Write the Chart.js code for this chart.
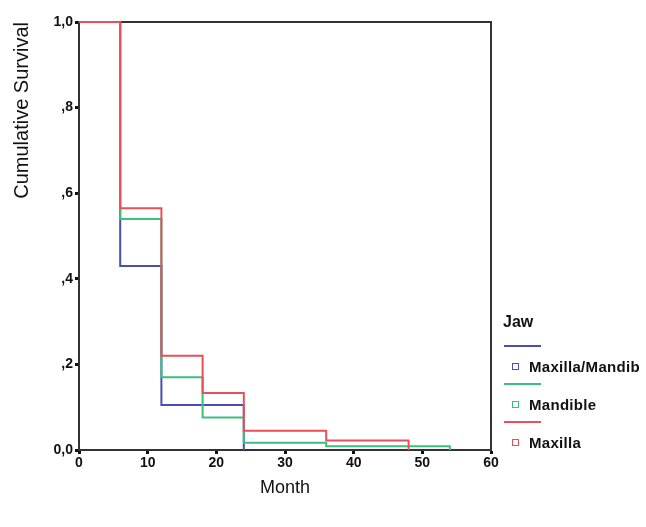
<!DOCTYPE html>
<html lang="en">

<head>
  <meta charset="UTF-8">
  <script src="https://cdn.jsdelivr.net/npm/chart.js@4.4.0/dist/chart.umd.min.js"></script>
  <style>
    body {
      margin: 0;
      background: #fff;
      font-family: "Liberation Sans", Arial, sans-serif;
    }

    #wrap {
      position: relative;
      width: 646px;
      height: 527px;
    }

    #legend {
      position: absolute;
      left: 503px;
      top: 313px;
      width: 143px;
      overflow: hidden;
      white-space: nowrap;
      color: #111;
    }

    #legend .title {
      font-weight: bold;
      font-size: 16px;
      height: 26px;
    }

    #legend .line {
      width: 37px;
      height: 2px;
      margin: 6px 0 8px 1px;
    }

    #legend .item {
      font-weight: bold;
      font-size: 15px;
      letter-spacing: 0.3px;
      height: 22px;
      display: flex;
      align-items: center;
    }

    #legend .box {
      width: 5px;
      height: 5px;
      border: 1.5px solid;
      margin: 0 10px 0 9px;
    }
  </style>
  <title>Cumulative Survival</title>
</head>

<body>
  <div id="wrap">
    <canvas id="chart" width="646" height="527"></canvas>
    <div id="legend"></div>
  </div>

  <script>
    // survival steps per jaw group (time in months, cumulative survival)
    const seriesNames = ['Maxilla/Mandible', 'Mandible', 'Maxilla'];
    const legendNames = ['Maxilla/Mandib', 'Mandible', 'Maxilla'];
    const blueTimes = [0, 6, 12, 24];
    const blueSurv = [1, 0.43, 0.105, 0];
    const greenTimes = [0, 6, 12, 18, 24, 36, 54];
    const greenSurv = [1, 0.54, 0.17, 0.076, 0.017, 0.009, 0];
    const redTimes = [0, 6, 12, 18, 24, 36, 48];
    const redSurv = [1, 0.565, 0.22, 0.133, 0.045, 0.022, 0];
    const yTickLabels = { 0: '0,0', 0.2: ',2', 0.4: ',4', 0.6: ',6', 0.8: ',8', 1: '1,0' };

    const colors = ['#4650b4', '#3cbf7c', '#e94f58'];

    function toPoints(times, surv) {
      return times.map(function (t, i) { return { x: t, y: surv[i] } })
    }

    const allTimes = [blueTimes, greenTimes, redTimes];
    const allSurv = [blueSurv, greenSurv, redSurv];

    // red is drawn on top, then green, then blue
    const datasets = seriesNames.map(function (name, i) {
      return {
        label: name,
        data: toPoints(allTimes[i], allSurv[i]),
        borderColor: colors[i],
        borderWidth: 2,
        pointRadius: 0,
        showLine: true,
        stepped: true,
        fill: false,
        clip: false,
        order: 2 - i
      }
    });

    // frame on top and right of the plot, under the lines
    const frame = {
      id: 'frame',
      beforeDatasetsDraw(chart) {
        const a = chart.chartArea;
        const ctx = chart.ctx;
        ctx.save();
        ctx.strokeStyle = '#333';
        ctx.lineWidth = 2;
        ctx.beginPath();
        ctx.moveTo(a.left, a.top);
        ctx.lineTo(a.right, a.top);
        ctx.lineTo(a.right, a.bottom);
        ctx.stroke();
        ctx.restore();
      }
    };

    const tickFont = { family: 'Liberation Sans', size: 14, weight: 'bold' };

    new Chart(document.getElementById('chart'), {
      type: 'scatter',
      data: { datasets: datasets },
      plugins: [frame],
      options: {
        responsive: false,
        animation: false,
        layout: { padding: { top: 22, right: 155, left: 0, bottom: 0 } },
        plugins: {
          legend: { display: false },
          tooltip: { enabled: false }
        },
        scales: {
          x: {
            type: 'linear',
            min: 0,
            max: 60,
            ticks: { stepSize: 10, color: '#111', font: tickFont, padding: 1, maxRotation: 0 },
            grid: { display: true, drawOnChartArea: false, drawTicks: true, tickLength: 4, tickWidth: 3, color: '#111' },
            border: { color: '#333', width: 2 },
            title: {
              display: true,
              text: 'Month',
              color: '#111',
              font: { family: 'Liberation Sans', size: 18 },
              padding: { top: 0, bottom: 28 }
            },
            afterFit(scale) { scale.height = 77 }
          },
          y: {
            min: 0,
            max: 1,
            ticks: {
              stepSize: 0.2,
              color: '#111',
              font: tickFont,
              padding: 2,
              callback: function (v) {
                const key = Math.round(v * 10) / 10;
                return yTickLabels[key];
              }
            },
            grid: { display: true, drawOnChartArea: false, drawTicks: true, tickLength: 4, tickWidth: 3, color: '#111' },
            border: { color: '#333', width: 2 },
            title: {
              display: true,
              text: 'Cumulative Survival',
              align: 'end',
              color: '#111',
              font: { family: 'Liberation Sans', size: 20 },
              padding: { top: 10, bottom: 0 }
            },
            afterFit(scale) { scale.width = 79 }
          }
        }
      }
    });

    // legend block at the right
    const legend = document.getElementById('legend');
    let html = '<div class="title">Jaw</div>';
    legendNames.forEach(function (name, i) {
      html += '<div class="line" style="background:' + colors[i] + '"></div>';
      html += '<div class="item"><span class="box" style="border-color:' + colors[i] + '"></span>' + name + '</div>';
    });
    legend.innerHTML = html;
  </script>
</body>

</html>
